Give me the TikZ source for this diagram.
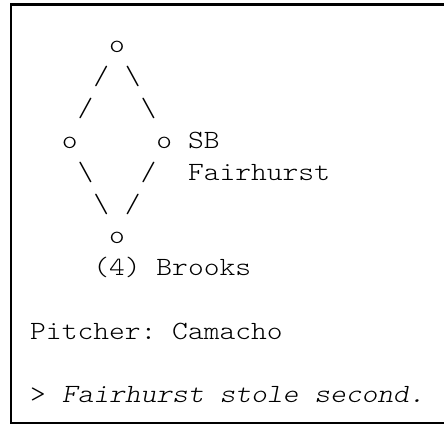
\documentclass[tikz,border=0pt]{standalone}
\usepackage{fontspec}
\newfontfamily\screenface{lmmonolt10-regular.otf}[ItalicFont=lmmonolt10-oblique.otf, FakeStretch=1.1429]
\usepackage{tikz}
\usetikzlibrary{positioning}
\newcommand{\screenfont}{\screenface\fontsize{26.3pt}{31.8pt}\selectfont}
\tikzset{
    frame/.style={draw=black, line width=2.3pt},
    textline/.style={inner sep=0pt, anchor=base west, font=\screenfont, text=black}
}

\begin{document}
\begin{tikzpicture}[x=1pt, y=-1pt]
        \useasboundingbox (0,0) rectangle (444,425);

        % Frame
        \draw [frame] (11.2,4.6) rectangle (470,422.8);

        % Diamond
        \node [textline] (secondbase) at (30,53) {~~~~~o};
        \node [textline] (upperlegs) at (30,84.8) {~~~~/~\textbackslash};
        \node [textline] (midlegs) at (30,116.6) {~~~/~~~\textbackslash};
        \node [textline] (corners) at (30,148.4) {~~o~~~~~o~SB};
        \node [textline] (lowerlegs) at (30,180.2) {~~~\textbackslash~~~/~~Fairhurst};
        \node [textline] (bottomlegs) at (30,212) {~~~~\textbackslash~/};
        \node [textline] (homeplate) at (30,243.8) {~~~~~o};
        \node [textline] (batter) at (30,275.6) {~~~~(4)~Brooks};

        % Status lines
        \node [textline] (pitcher) at (30,339.2) {Pitcher:~Camacho};
        \node [textline] (play) at (30,402.8) {>~\textit{Fairhurst stole second.}};

    \end{tikzpicture}
\end{document}
